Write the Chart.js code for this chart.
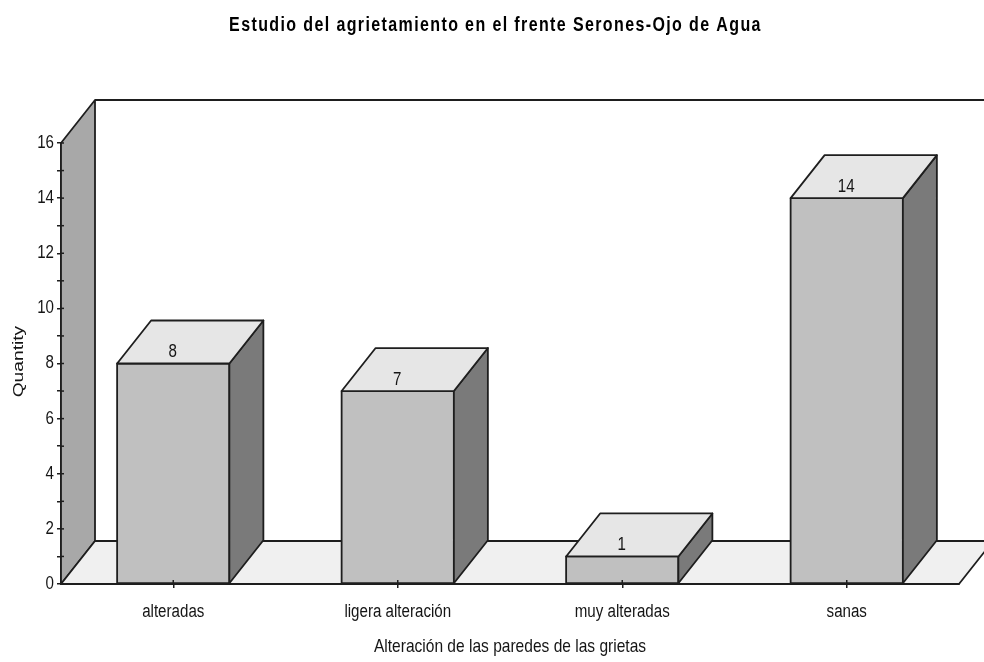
<!DOCTYPE html>
<html><head><meta charset="utf-8">
<style>html,body{margin:0;padding:0;background:#fff}canvas{display:block}</style>
<script src="https://cdn.jsdelivr.net/npm/chart.js@4"></script></head>
<body><canvas id="c" width="984" height="662"></canvas>
<script>
const categories = ["alteradas", "ligera alteración", "muy alteradas", "sanas"];
const values = [8, 7, 1, 14];
const chartTitle = "Estudio del agrietamiento en el frente Serones-Ojo de Agua";
const xTitle = "Alteración de las paredes de las grietas";
const yTitle = "Quantity";
const FONT = "'Liberation Sans',Arial,sans-serif";
const DX = 34, DY = 43, LINE = "#1e1e1e", TEXT = "#151515";
const NARROW_X = 0.84, TITLE_X = 0.8, YTITLE_X = 1.28;

function poly(ctx, pts, fill) {
  ctx.beginPath();
  pts.forEach((p, i) => i ? ctx.lineTo(p[0], p[1]) : ctx.moveTo(p[0], p[1]));
  ctx.closePath();
  ctx.fillStyle = fill; ctx.fill();
  ctx.lineWidth = 1.8; ctx.lineJoin = "round"; ctx.strokeStyle = LINE; ctx.stroke();
}
const threeD = {
  id: "threeD",
  install(chart) {
    // The reference uses a condensed face: squeeze all canvas text horizontally.
    const ctx = chart.ctx, orig = ctx.fillText.bind(ctx);
    ctx.fillText = function (text, x, y) {
      const isTitle = text === chartTitle, isY = text === yTitle;
      ctx.save();
      ctx.translate(x + (isTitle ? 16 : 0), y);
      ctx.scale(isTitle ? TITLE_X : isY ? YTITLE_X : NARROW_X, 1);
      ctx.letterSpacing = isTitle ? "1.73px" : "0px";
      orig(text, isY ? 1.5 : 0, 0);
      ctx.restore();
    };
  },
  beforeDatasetsDraw(chart) {
    const ctx = chart.ctx, a = chart.chartArea;
    ctx.save();
    poly(ctx, [[a.left, a.bottom], [a.left, a.top], [a.left + DX, a.top - DY], [a.left + DX, a.bottom - DY]], "#a8a8a8");
    poly(ctx, [[a.left, a.bottom], [a.left + DX, a.bottom - DY], [a.right + DX, a.bottom - DY], [a.right, a.bottom]], "#f0f0f0");
    ctx.beginPath();
    ctx.moveTo(a.left + DX, a.top - DY); ctx.lineTo(chart.width + 5, a.top - DY);
    ctx.lineWidth = 1.8; ctx.strokeStyle = LINE; ctx.stroke();
    ctx.restore();
  },
  afterDatasetsDraw(chart) {
    const ctx = chart.ctx, meta = chart.getDatasetMeta(0), a = chart.chartArea;
    ctx.save();
    meta.data.forEach((bar, i) => {
      const l = bar.x - bar.width / 2, r = bar.x + bar.width / 2, t = bar.y, b = bar.base;
      poly(ctx, [[l, t], [r, t], [r, b], [l, b]], "#c0c0c0");
      poly(ctx, [[r, t], [r + DX, t - DY], [r + DX, b - DY], [r, b]], "#7a7a7a");
      poly(ctx, [[l, t], [l + DX, t - DY], [r + DX, t - DY], [r, t]], "#e6e6e6");
      ctx.fillStyle = TEXT; ctx.font = "18px " + FONT;
      ctx.textAlign = "center"; ctx.textBaseline = "middle";
      ctx.fillText(String(values[i]), bar.x - 0.5, t - 11.5);
    });
    ctx.strokeStyle = LINE; ctx.lineWidth = 1.5;
    chart.scales.y.ticks.forEach(tk => {
      const y = chart.scales.y.getPixelForValue(tk.value);
      ctx.beginPath(); ctx.moveTo(a.left, y); ctx.lineTo(a.left + 3, y); ctx.stroke();
    });
    meta.data.forEach(bar => {
      ctx.beginPath(); ctx.moveTo(bar.x, a.bottom - 4); ctx.lineTo(bar.x, a.bottom); ctx.stroke();
    });
    ctx.restore();
  }
};
new Chart(document.getElementById("c"), {
  type: "bar",
  data: { labels: categories, datasets: [{ data: values, backgroundColor: "#c0c0c0", borderWidth: 0, barPercentage: 1, categoryPercentage: 0.5 }] },
  plugins: [threeD],
  options: {
    responsive: false, animation: false, devicePixelRatio: 1,
    layout: { padding: { left: 0, right: 25, top: 0, bottom: 0 } },
    plugins: {
      legend: { display: false }, tooltip: { enabled: false },
      title: { display: true, text: chartTitle, color: "#000", font: { family: FONT, size: 20, weight: "bold", lineHeight: 1.2 }, padding: { top: 13, bottom: 106 } }
    },
    scales: {
      x: {
        z: 1, afterFit: s => { s.height = 78; },
        title: { display: true, text: xTitle, color: TEXT, font: { family: FONT, size: 18.5 }, padding: { top: 3, bottom: 4 } },
        ticks: { color: TEXT, font: { family: FONT, size: 18 }, padding: 13, maxRotation: 0 },
        grid: { display: true, offset: false, drawOnChartArea: false, tickLength: 4, color: LINE, lineWidth: 1.5 },
        border: { display: true, color: LINE, width: 2 }
      },
      y: {
        z: 1, min: 0, max: 16, afterFit: s => { s.width = 61; },
        title: { display: true, text: yTitle, color: TEXT, font: { family: FONT, size: 15 }, padding: { top: 10, bottom: 0 } },
        ticks: { stepSize: 1, autoSkip: false, color: TEXT, font: { family: FONT, size: 18 }, padding: 3, callback: v => (v % 2 === 0 ? String(v) : "") },
        grid: { display: true, drawOnChartArea: false, tickLength: 4, color: LINE, lineWidth: 1.5 },
        border: { display: true, color: LINE, width: 2 }
      }
    }
  }
});
</script></body></html>
